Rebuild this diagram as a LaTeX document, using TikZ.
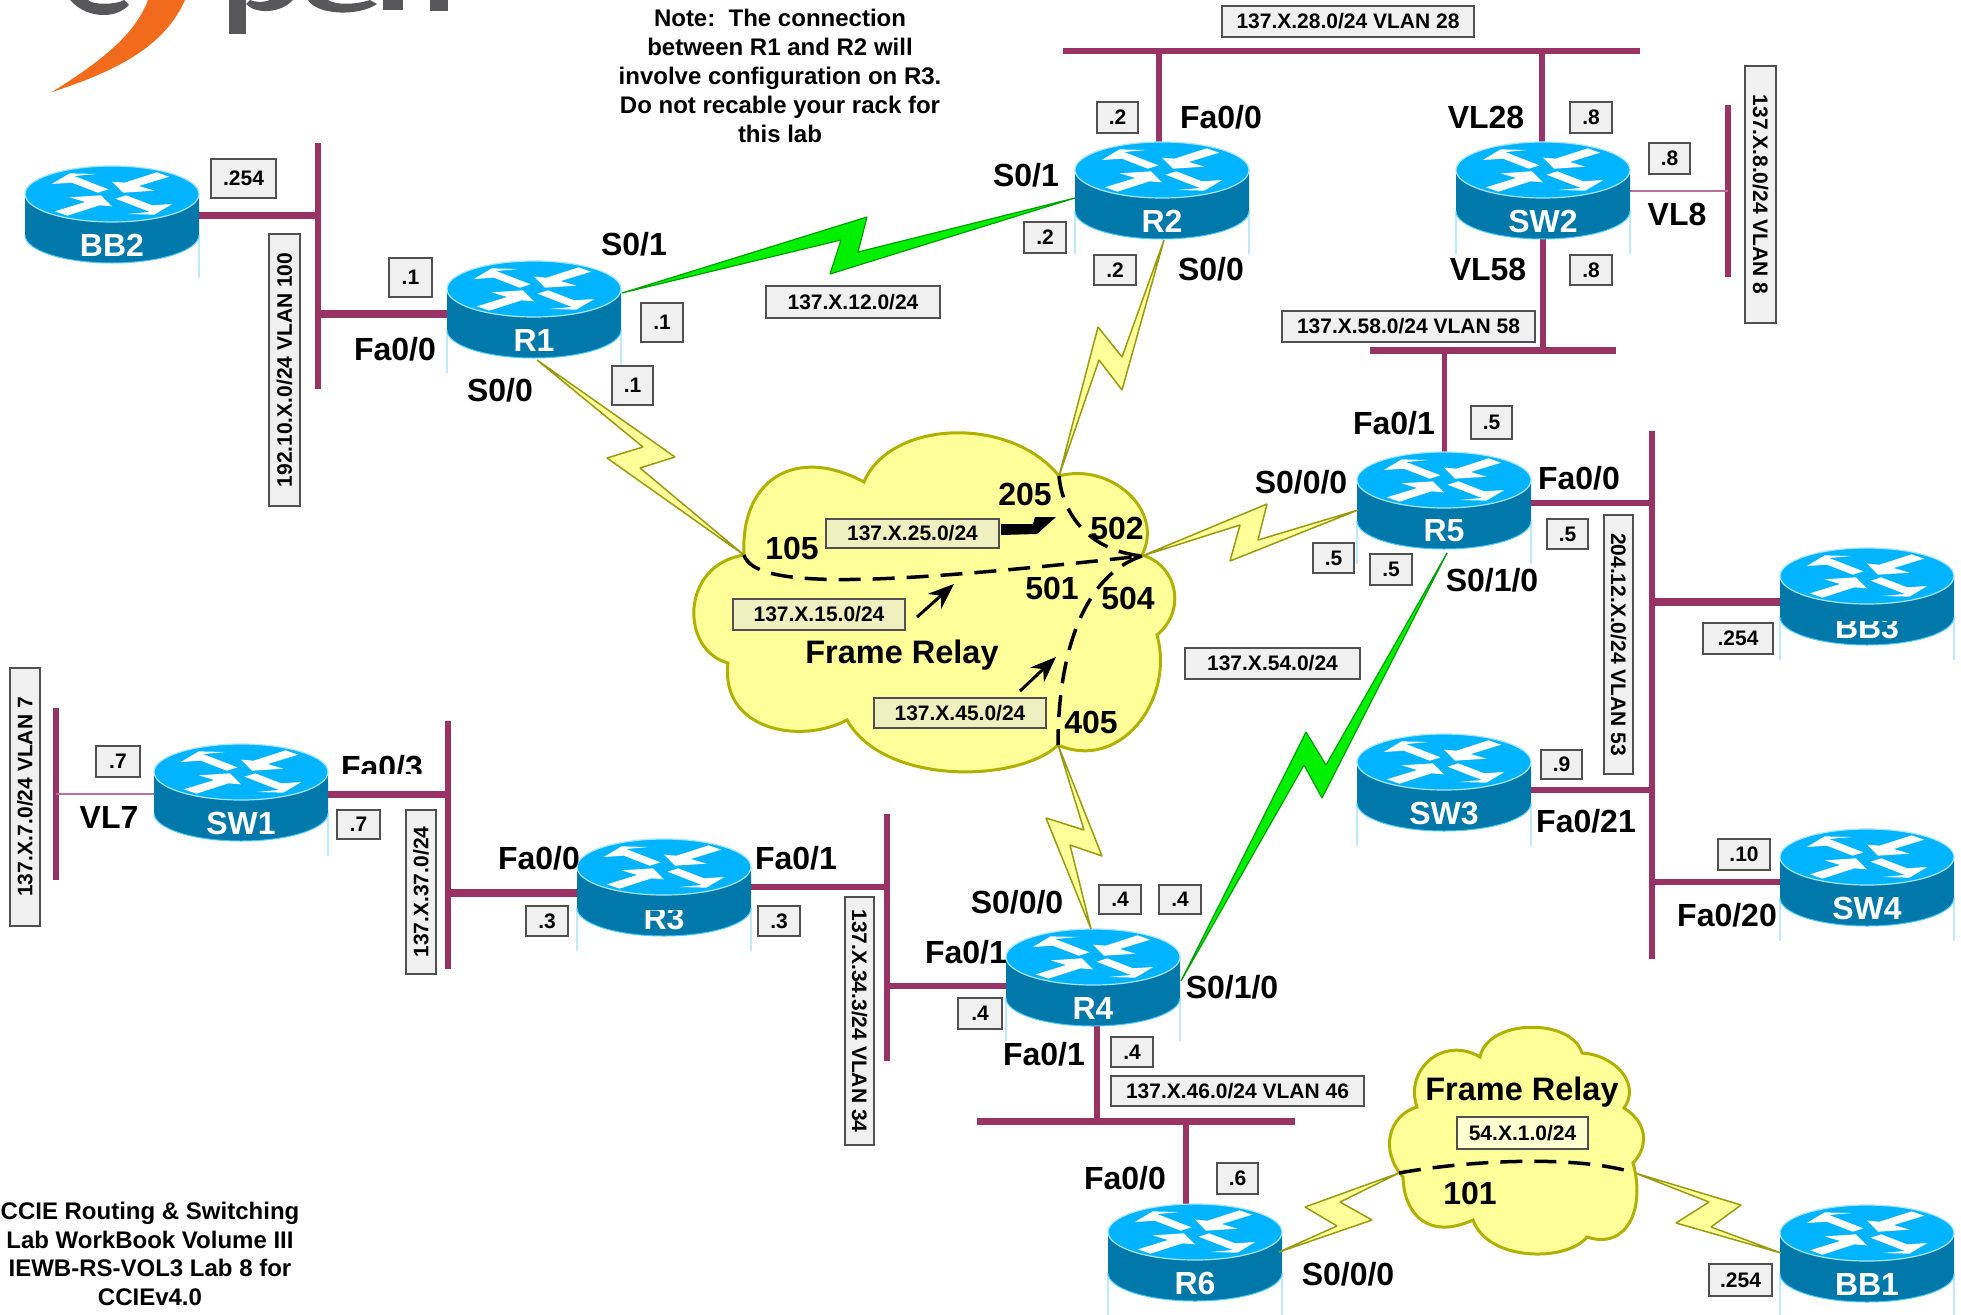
\documentclass[tikz,border=0pt]{standalone}
\usepackage{fontspec}
\setmainfont{Liberation Sans}
\usetikzlibrary{arrows.meta,calc}
\definecolor{busc}{HTML}{993366}
\definecolor{thinbus}{HTML}{B9709A}
\definecolor{rtop}{HTML}{00B4FF}
\definecolor{rbody}{HTML}{0078AA}
\definecolor{rrim}{HTML}{A8E4FF}
\definecolor{rside}{HTML}{BFE9FF}
\definecolor{cloudf}{HTML}{FFFF99}
\definecolor{cloudd}{HTML}{B0B000}
\definecolor{zapd}{HTML}{9A9A10}
\definecolor{greenf}{HTML}{00F000}
\definecolor{greend}{HTML}{00A000}
\definecolor{tagf}{HTML}{F0F0F0}
\definecolor{tagy}{HTML}{EFEFC0}
\definecolor{tagl}{HTML}{FFFFD0}
\definecolor{tagd}{HTML}{505050}
\definecolor{logog}{HTML}{58585A}
\definecolor{logoo}{HTML}{F26A1B}
\pgfdeclarelayer{bg}
\pgfsetlayers{bg,main}
\tikzset{
  bus/.style={draw=busc,line width=6pt},
  thinlink/.style={draw=thinbus,line width=2pt},
  zap/.style={draw=zapd,fill=cloudf,line width=1.5pt,line join=miter,miter limit=2},
  gzap/.style={draw=greend,fill=greenf,line width=1.2pt,line join=miter,miter limit=2},
  cloud/.style={draw=cloudd,fill=cloudf,line width=3pt},
  pvc/.style={draw=black,line width=3.5pt,dash pattern=on 22pt off 12pt},
  lbl/.style={font=\fontsize{32}{36}\selectfont\bfseries,inner sep=0pt,text=black},
  tag/.style={draw=tagd,fill=tagf,line width=1.5pt,inner sep=0pt,font=\fontsize{21}{25}\selectfont\bfseries,text=black},
  rtext/.style={font=\fontsize{32}{36}\selectfont\bfseries,text=white,inner sep=0pt},
  plain/.style={font=\fontsize{24}{28.8}\selectfont\bfseries,align=center,inner sep=0pt,text=black},
  ptr/.style={draw=black,line width=3pt,-{Stealth[length=26pt,width=20pt]}},
  pics/router/.style 2 args={code={
    \node[minimum width=174pt,minimum height=97pt,inner sep=0pt] (-box) at (0,20.5) {};
    \draw[rside,line width=1.2pt,opacity=#2] (-87,41) -- (-87,84);
    \draw[rside,line width=1.2pt] (87,41) -- (87,84);
    \fill[rbody] (-87,0) -- (-87,41) arc[start angle=180,end angle=360,x radius=87pt,y radius=28pt] -- (87,0) -- cycle;
    \draw[rtop!70!white,line width=1pt] (-87,41) arc[start angle=180,end angle=360,x radius=87pt,y radius=28pt];
    \draw[rrim,line width=1.2pt,fill=rtop] (0,0) ellipse[x radius=87pt,y radius=28pt];
    \begin{scope}[x=0.446pt,y=0.333pt]
      \fill[white] (-128,-52) -- (-100,-65) -- (-28,-34) -- (0,-37) -- (-25,-4) -- (-95,-10) -- (-60,-24) -- cycle;
      \fill[white] (8,-14) -- (85,-54) -- (35,-60) -- (95,-62) -- (135,-30) -- (90,-34) -- (32,-4) -- cycle;
      \fill[white] (-8,14) -- (-85,54) -- (-35,60) -- (-95,62) -- (-135,30) -- (-90,34) -- (-32,4) -- cycle;
      \fill[white] (128,52) -- (100,65) -- (28,34) -- (0,37) -- (25,4) -- (95,10) -- (60,24) -- cycle;
    \end{scope}
    \node[rtext] (-name) at (0,51) {#1};
  }}
}
\newcommand\lbl[4]{\node[lbl] (#1) at (#2,#3) {#4};}
\newcommand\tagbox[7][]{%
  \pgfmathsetmacro\tcx{(#3+#5)/2}\pgfmathsetmacro\tcy{(#4+#6)/2}%
  \pgfmathsetmacro\tw{#5-#3}\pgfmathsetmacro\th{#6-#4}%
  \node[tag,minimum width=\tw pt,minimum height=\th pt,#1] (#2) at (\tcx,\tcy) {#7};}
\newcommand\tagrot[7][90]{%
  \pgfmathsetmacro\tcx{(#3+#5)/2}\pgfmathsetmacro\tcy{(#4+#6)/2}%
  \pgfmathsetmacro\tw{#6-#4}\pgfmathsetmacro\th{#5-#3}%
  \node[tag,rotate=#1,minimum width=\tw pt,minimum height=\th pt] (#2) at (\tcx,\tcy) {#7};}
\begin{document}
\begin{tikzpicture}[x=1pt,y=-1pt]
\useasboundingbox (0,0) rectangle (1961,1314);
\begin{pgfonlayer}{bg}
  \fill[white] (0,0) rectangle (1961,1314);
\end{pgfonlayer}
% logo remains
\begin{scope}
  \clip (0,0) rectangle (1961,1314);
  \fill[logog] (70,0) .. controls (80,11) and (92,15) .. (104,15) .. controls (115,15) and (123,11) .. (129,5) -- (124,0) .. controls (116,5) and (92,5) .. (88,0) -- cycle;
  \fill[logog] (229,0) -- (229,34) -- (246,34) -- (246,0) -- cycle;
  \fill[logog] (246,4) .. controls (255,14) and (280,14) .. (293,0) -- (270,0) .. controls (262,3) and (255,2) .. (250,0) -- cycle;
  \fill[logog] (308,0) .. controls (318,16) and (360,16) .. (377,4) -- (370,0) .. controls (355,5) and (335,5) .. (328,0) -- cycle;
  \fill[logog] (383,0) rectangle (403,10);
  \fill[logog] (430,0) rectangle (448,11);
  \fill[logoo] (52,92) .. controls (100,62) and (135,35) .. (148,0) -- (185,0) .. controls (165,45) and (120,70) .. (52,92) -- cycle;
\end{scope}
% clouds
\draw[cloud] (744,555) .. controls (740,480) and (795,445) .. (864,482)
  .. controls (890,420) and (1010,415) .. (1059,476)
  .. controls (1110,462) and (1165,510) .. (1142,555)
  .. controls (1177,565) and (1187,610) .. (1157,635)
  .. controls (1175,700) and (1120,772) .. (1058,745)
  .. controls (1020,782) and (885,787) .. (847,720)
  .. controls (800,745) and (720,730) .. (728,663)
  .. controls (680,650) and (680,565) .. (744,555) -- cycle;
\draw[cloud] (1403,1177) .. controls (1379,1150) and (1389,1115) .. (1417,1107)
  .. controls (1404,1070) and (1443,1035) .. (1480,1057)
  .. controls (1488,1018) and (1572,1018) .. (1582,1053)
  .. controls (1616,1055) and (1641,1085) .. (1624,1108)
  .. controls (1651,1125) and (1646,1150) .. (1633,1163)
  .. controls (1646,1210) and (1626,1250) .. (1587,1237)
  .. controls (1567,1262) and (1488,1262) .. (1473,1220)
  .. controls (1429,1240) and (1404,1215) .. (1403,1177) -- cycle;
% routers
\pic (BB2) at (112,194) {router={BB2}{0}};
\pic (R1) at (534,289) {router={R1}{1}};
\pic (R2) at (1162,170) {router={R2}{1}};
\pic (SW2) at (1543,170) {router={SW2}{1}};
\pic (R5) at (1444,480) {router={R5}{1}};
\pic (BB3) at (1867,576) {router={BB3}{1}};
\pic (SW3) at (1444,762) {router={SW3}{1}};
\pic (SW4) at (1867,857) {router={SW4}{1}};
\pic (SW1) at (241,772) {router={SW1}{0}};
\pic (R3) at (664,867) {router={R3}{1}};
\pic (R4) at (1093,957) {router={R4}{1}};
\pic (R6) at (1195,1232) {router={R6}{1}};
\pic (BB1) at (1867,1233) {router={BB1}{1}};
% clipped router names
\fill[rbody] (1820,610) rectangle (1914,621);
\fill[rbody] (625,900) rectangle (703,910);
% bus end points
\coordinate (a1) at (318,143); \coordinate (a2) at (318,389);
\coordinate (jb2) at (318,215); \coordinate (jr1) at (318,314);
\coordinate (b1) at (1063,51); \coordinate (b2) at (1640,51);
\coordinate (jr2) at (1159,51); \coordinate (jsw2) at (1542,51);
\coordinate (c1) at (1370,350); \coordinate (c2) at (1616,350);
\coordinate (jsw2d) at (1543,350); \coordinate (jr5u) at (1444,350);
\coordinate (d1) at (1728,105); \coordinate (d2) at (1728,277); \coordinate (jvl8) at (1728,191);
\coordinate (e1) at (1652,431); \coordinate (e2) at (1652,959);
\coordinate (jr5) at (1652,503); \coordinate (jbb3) at (1652,602);
\coordinate (jsw3) at (1652,790); \coordinate (jsw4) at (1652,882);
\coordinate (f1) at (56,708); \coordinate (f2) at (56,880); \coordinate (jvl7) at (56,794);
\coordinate (g1) at (448,721); \coordinate (g2) at (448,969);
\coordinate (jsw1) at (448,794); \coordinate (jr3l) at (448,893);
\coordinate (h1) at (887,814); \coordinate (h2) at (887,1061);
\coordinate (jr3r) at (887,887); \coordinate (jr4l) at (887,986);
\coordinate (i1) at (977,1121); \coordinate (i2) at (1295,1121);
\coordinate (jr4d) at (1097,1121); \coordinate (jr6) at (1186,1121);
\begin{pgfonlayer}{bg}
  \draw[bus] (a1) -- (a2);
  \draw[bus,line width=7pt] (BB2-box.east |- jb2) -- (jb2);
  \draw[bus,line width=8pt] (R1-box.west |- jr1) -- (jr1);
  \draw[bus] (b1) -- (b2);
  \draw[bus] (R2-box.north -| jr2) -- (jr2);
  \draw[bus] (SW2-box.north -| jsw2) -- (jsw2);
  \draw[bus,line width=7pt] (c1) -- (c2);
  \draw[bus] (SW2-box.south -| jsw2d) -- (jsw2d);
  \draw[bus,line width=5pt] (R5-box.north -| jr5u) -- (jr5u);
  \draw[bus] (d1) -- (d2);
  \draw[thinlink] (SW2-box.east |- jvl8) -- (jvl8);
  \draw[bus] (e1) -- (e2);
  \draw[bus] (R5-box.east |- jr5) -- (jr5);
  \draw[bus,line width=8pt] (BB3-box.west |- jbb3) -- (jbb3);
  \draw[bus] (SW3-box.east |- jsw3) -- (jsw3);
  \draw[bus] (SW4-box.west |- jsw4) -- (jsw4);
  \draw[bus] (f1) -- (f2);
  \draw[thinlink] (SW1-box.west |- jvl7) -- (jvl7);
  \draw[bus] (g1) -- (g2);
  \draw[bus,line width=7pt] (SW1-box.east |- jsw1) -- (jsw1);
  \draw[bus,line width=8pt] (R3-box.west |- jr3l) -- (jr3l);
  \draw[bus] (h1) -- (h2);
  \draw[bus] (R3-box.east |- jr3r) -- (jr3r);
  \draw[bus] (R4-box.west |- jr4l) -- (jr4l);
  \draw[bus,line width=7pt] (i1) -- (i2);
  \draw[bus] (R4-box.south -| jr4d) -- (jr4d);
  \draw[bus] (R6-box.north -| jr6) -- (jr6);
\end{pgfonlayer}
% cloud attachment points and link ends
\coordinate (p105) at (744,555); \coordinate (p205) at (1059,476);
\coordinate (p5) at (1142,556); \coordinate (p405) at (1058,745);
\coordinate (p6) at (1399,1173); \coordinate (pbb1) at (1635,1173);
\coordinate (r1s1) at (622,293); \coordinate (r2s1) at (1075,198);
\coordinate (r5s0) at (1358,510); \coordinate (r5s1) at (1447,553);
\coordinate (r4s0) at (1091,929); \coordinate (r4s1) at (1181,981);
\coordinate (r6s0) at (1279,1252); \coordinate (bb1s) at (1781,1253);
\coordinate (r1s0) at (537,360); \coordinate (r2s0) at (1164,240);
% serial links
\draw[zap] (r1s0) -- (675,457) -- (640,468) -- (p105) -- (607,458) -- (643,447) -- cycle;
\draw[zap] (r2s0) -- (1122,390) -- (1099,360) -- (p205) -- (1098,327) -- (1122,357) -- cycle;
\draw[zap] (p5) -- (1267,504) -- (1258,540) -- (r5s0) -- (1230,561) -- (1240,525) -- cycle;
\draw[zap] (p405) -- (1102,856) -- (1070,845) -- (r4s0) -- (1046,818) -- (1084,830) -- cycle;
\draw[zap] (r6s0) -- (1372,1220) -- (1340,1202) -- (p6) -- (1305,1207) -- (1337,1226) -- cycle;
\draw[zap] (pbb1) -- (1741,1205) -- (1711,1227) -- (bb1s) -- (1676,1223) -- (1709,1202) -- cycle;
\draw[gzap] (r1s1) -- (867,217) -- (858,252) -- (r2s1) -- (830,274) -- (841,240) -- cycle;
\draw[gzap] (r4s1) -- (1306,732) -- (1326,765) -- (r5s1) -- (1322,798) -- (1304,765) -- cycle;
% PVCs
\draw[pvc] (p105) .. controls (755,590) and (880,585) .. (p5);
\draw[pvc] (p205) .. controls (1062,510) and (1085,550) .. (p5);
\draw[pvc] (p5) .. controls (1085,575) and (1058,650) .. (p405);
\draw[pvc] (p6) .. controls (1470,1160) and (1578,1155) .. (pbb1);
% tags inside clouds
\tagbox[fill=tagy]{t25}{826}{519}{999}{548}{137.X.25.0/24}
\tagbox[fill=tagy]{t15}{733}{599}{905}{630}{137.X.15.0/24}
\tagbox[fill=tagy]{t45}{874}{698}{1046}{728}{137.X.45.0/24}
\tagbox[fill=tagl]{t54}{1457}{1117}{1588}{1149}{54.X.1.0/24}
% pointers
\fill[black] (1001,524) -- (1033,524) -- (1035,517) -- (1056,517) -- (1037,534) -- (1001,535) -- cycle;
\coordinate (q15) at (917,617);
\coordinate (q15e) at (954,584);
\coordinate (q45) at (1020,691);
\coordinate (q45e) at (1056,657);
\draw[ptr] (q15) -- (q15e);
\draw[ptr] (q45) -- (q45e);
% cloud text
\lbl{n105}{792}{548}{105}
\lbl{n205}{1025}{494}{205}
\lbl{n502}{1117}{528}{502}
\lbl{n501}{1052}{588}{501}
\lbl{n504}{1128}{598}{504}
\lbl{n405}{1091}{722}{405}
\lbl{fr1}{902}{655}{\fontsize{32.5}{36}\selectfont Frame Relay}
\lbl{fr2}{1522}{1092}{\fontsize{32.5}{36}\selectfont Frame Relay}
\lbl{n101}{1470}{1193}{101}
% interface labels
\lbl{l1}{634}{244}{S0/1}
\lbl{l2}{395}{349}{Fa0/0}
\lbl{l3}{500}{390}{S0/0}
\lbl{l4}{1026}{175}{S0/1}
\lbl{l5}{1221}{117}{Fa0/0}
\lbl{l6}{1211}{269}{S0/0}
\lbl{l7}{1486}{117}{VL28}
\lbl{l8}{1677}{214}{VL8}
\lbl{l9}{1488}{269}{VL58}
\lbl{l10}{1394}{423}{Fa0/1}
\lbl{l11}{1301}{482}{S0/0/0}
\lbl{l12}{1579}{478}{Fa0/0}
\lbl{l13}{1492}{580}{S0/1/0}
\lbl{l14}{1586}{821}{Fa0/21}
\lbl{l15}{1727}{915}{Fa0/20}
\lbl{l16}{109}{817}{VL7}
\lbl{l17}{382}{767}{Fa0/3}
\fill[white] (340,774) rectangle (425,784);
\lbl{l18}{539}{858}{Fa0/0}
\lbl{l19}{796}{858}{Fa0/1}
\lbl{l20}{1017}{902}{S0/0/0}
\lbl{l21}{966}{952}{Fa0/1}
\lbl{l22}{1232}{987}{S0/1/0}
\lbl{l23}{1044}{1054}{Fa0/1}
\lbl{l24}{1125}{1178}{Fa0/0}
\lbl{l25}{1348}{1274}{S0/0/0}
% address tags
\tagbox{a254}{211}{159}{276}{198}{.254}
\tagbox{a1l}{389}{258}{432}{297}{.1}
\tagbox{a1r}{641}{303}{683}{342}{.1}
\tagbox{a1b}{612}{366}{653}{405}{.1}
\tagbox{a2t}{1097}{102}{1138}{133}{.2}
\tagbox{a2l}{1024}{222}{1066}{253}{.2}
\tagbox{a2b}{1094}{255}{1136}{285}{.2}
\tagbox{a8t}{1570}{102}{1612}{133}{.8}
\tagbox{a8r}{1649}{143}{1690}{174}{.8}
\tagbox{a8b}{1570}{255}{1612}{285}{.8}
\tagbox{a5t}{1471}{406}{1512}{439}{.5}
\tagbox{a5r}{1547}{519}{1588}{549}{.5}
\tagbox{a5l}{1313}{543}{1354}{573}{.5}
\tagbox{a5b}{1370}{554}{1412}{585}{.5}
\tagbox{a9}{1541}{750}{1582}{779}{.9}
\tagbox{a254b}{1703}{623}{1773}{654}{.254}
\tagbox{a10}{1718}{839}{1770}{870}{.10}
\tagbox{a7l}{96}{746}{140}{777}{.7}
\tagbox{a7r}{337}{810}{380}{839}{.7}
\tagbox{a3l}{526}{906}{568}{936}{.3}
\tagbox{a3r}{758}{906}{800}{936}{.3}
\tagbox{a4a}{1099}{885}{1141}{914}{.4}
\tagbox{a4b}{1159}{885}{1201}{914}{.4}
\tagbox{a4c}{958}{998}{1002}{1029}{.4}
\tagbox{a4d}{1111}{1037}{1153}{1067}{.4}
\tagbox{a6}{1217}{1163}{1258}{1194}{.6}
\tagbox{a254c}{1709}{1264}{1772}{1296}{.254}
% subnet tags
\tagbox{s28}{1222}{6}{1474}{37}{137.X.28.0/24 VLAN 28}
\tagbox{s58}{1282}{311}{1535}{342}{137.X.58.0/24 VLAN 58}
\tagbox{s12}{766}{286}{940}{318}{137.X.12.0/24}
\tagbox{s54}{1185}{648}{1360}{679}{137.X.54.0/24}
\tagbox{s46}{1111}{1076}{1364}{1106}{137.X.46.0/24 VLAN 46}
\tagrot[90]{s100}{269}{234}{300}{506}{192.10.X.0/24 VLAN 100}
\tagrot[-90]{s8}{1745}{66}{1776}{323}{137.X.8.0/24 VLAN 8}
\tagrot[-90]{s53}{1604}{515}{1633}{774}{204.12.X.0/24 VLAN 53}
\tagrot[90]{s7}{10}{668}{40}{926}{137.X.7.0/24 VLAN 7}
\tagrot[90]{s37}{406}{810}{436}{974}{137.X.37.0/24}
\tagrot[-90]{s34}{845}{897}{874}{1145}{137.X.34.3/24 VLAN 34}
% notes
\node[plain] (note) at (780,76) {Note:\ \ The connection\\between R1 and R2 will\\involve configuration on R3.\\Do not recable your rack for\\this lab};
\node[plain] (title) at (150,1254) {CCIE Routing \& Switching\\Lab WorkBook Volume III\\IEWB-RS-VOL3 Lab 8 for\\CCIEv4.0};
\end{tikzpicture}
\end{document}
